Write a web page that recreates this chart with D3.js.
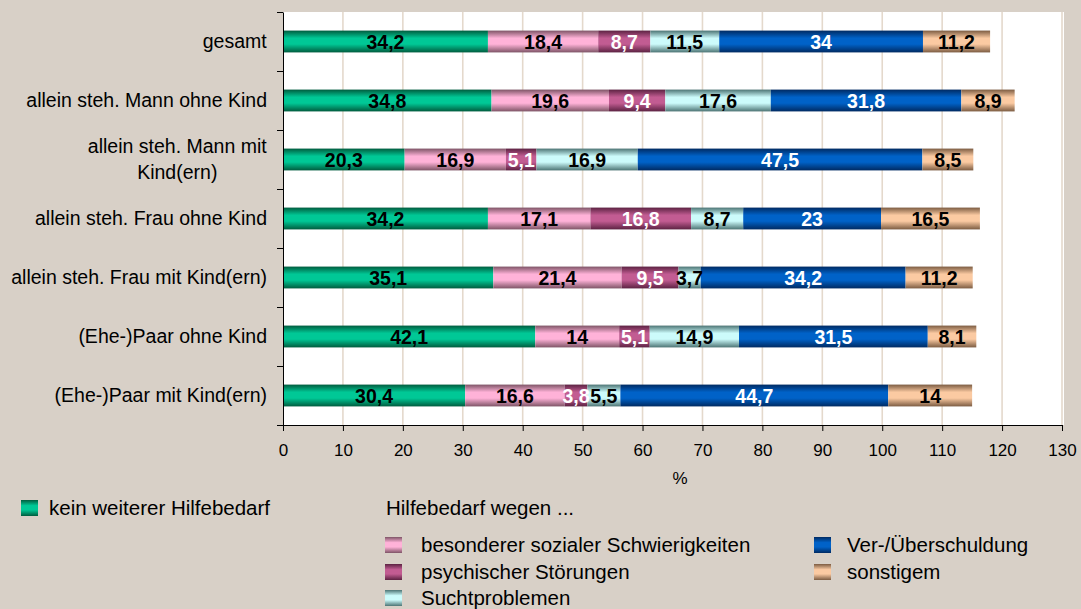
<!DOCTYPE html>
<html>
<head>
<meta charset="utf-8">
<script src="https://cdn.jsdelivr.net/npm/d3@7"></script>
<style>
  html, body { margin: 0; padding: 0; background: #d8d0c7; }
  svg { display: block; font-family: "Liberation Sans", Arial, sans-serif; }
</style>
</head>
<body>
<figure id="bar" style="margin:0"></figure>
<script>
// categories (top to bottom)
const categories = [
  "gesamt",
  "allein steh. Mann ohne Kind",
  "allein steh. Mann mit|Kind(ern)",
  "allein steh. Frau ohne Kind",
  "allein steh. Frau mit Kind(ern)",
  "(Ehe-)Paar ohne Kind",
  "(Ehe-)Paar mit Kind(ern)"
];

// series values in %
const keinWeiterer   = [34.2, 34.8, 20.3, 34.2, 35.1, 42.1, 30.4];
const sozialeSchw    = [18.4, 19.6, 16.9, 17.1, 21.4, 14.0, 16.6];
const psychStoerung  = [8.7, 9.4, 5.1, 16.8, 9.5, 5.1, 3.8];
const suchtProbleme  = [11.5, 17.6, 16.9, 8.7, 3.7, 14.9, 5.5];
const verschuldung   = [34, 31.8, 47.5, 23, 34.2, 31.5, 44.7];
const sonstigem      = [11.2, 8.9, 8.5, 16.5, 11.2, 8.1, 14];

const seriesNames = [
  "kein weiterer Hilfebedarf",
  "besonderer sozialer Schwierigkeiten",
  "psychischer Störungen",
  "Suchtproblemen",
  "Ver-/Überschuldung",
  "sonstigem"
];
const xTicks = d3.range(0, 131, 10);

const seriesValues = [keinWeiterer, sozialeSchw, psychStoerung, suchtProbleme, verschuldung, sonstigem];
// light centre / dark edge of each bar gradient, and label colour
const palette = [
  {light: "#00c896", dark: "#005c3e", text: "#000"},
  {light: "#ffb2d8", dark: "#7e5466", text: "#000"},
  {light: "#c25c92", dark: "#5c2242", text: "#fff"},
  {light: "#ccfbfb", dark: "#4c7474", text: "#000"},
  {light: "#0062c8", dark: "#002a62", text: "#fff"},
  {light: "#fbcaa2", dark: "#7c5c42", text: "#000"}
];

const W = 1081, H = 609;
const plot = {left: 283, right: 1062, top: 12, bottom: 425};

const svg = d3.select("figure#bar").append("svg")
  .attr("width", W).attr("height", H);

// gradients
const defs = svg.append("defs");
palette.forEach((p, i) => {
  const g = defs.append("linearGradient")
    .attr("id", "grad" + i)
    .attr("x1", 0).attr("y1", 0).attr("x2", 0).attr("y2", 1);
  g.append("stop").attr("offset", "0%").attr("stop-color", p.dark);
  g.append("stop").attr("offset", "35%").attr("stop-color", p.light);
  g.append("stop").attr("offset", "62%").attr("stop-color", p.light);
  g.append("stop").attr("offset", "100%").attr("stop-color", p.dark);
});

// plot area
svg.append("rect")
  .attr("x", plot.left).attr("y", plot.top)
  .attr("width", 1064 - plot.left).attr("height", plot.bottom - plot.top)
  .attr("fill", "#fff");

const x = d3.scaleLinear().domain([0, 130]).range([plot.left, plot.right]);
const y = d3.scaleBand()
  .domain(categories)
  .range([plot.top, plot.bottom])
  .paddingInner(0.63)
  .paddingOuter(0.315);

// vertical gridlines
svg.append("g").selectAll("line")
  .data(xTicks.filter(d => d > 0))
  .enter().append("line")
  .attr("x1", d => x(d)).attr("x2", d => x(d))
  .attr("y1", plot.top).attr("y2", plot.bottom)
  .attr("stroke", "#e4d9cc").attr("stroke-width", 1.6);

// stacked data
const stackData = categories.map((c, i) => {
  const row = {cat: c};
  seriesValues.forEach((s, j) => row["s" + j] = s[i]);
  return row;
});
const stack = d3.stack().keys(seriesValues.map((s, j) => "s" + j))(stackData);

const layers = svg.append("g").selectAll("g")
  .data(stack)
  .enter().append("g")
  .attr("fill", (d, i) => "url(#grad" + i + ")");

layers.selectAll("rect")
  .data(d => d)
  .enter().append("rect")
  .attr("x", d => x(d[0]))
  .attr("y", d => y(d.data.cat))
  .attr("width", d => x(d[1]) - x(d[0]))
  .attr("height", y.bandwidth());

// value labels
const labels = svg.append("g")
  .attr("font-size", "19.5px").attr("font-weight", "bold")
  .attr("text-anchor", "middle");
stack.forEach((layer, i) => {
  labels.append("g").attr("fill", palette[i].text)
    .selectAll("text")
    .data(layer)
    .enter().append("text")
    .attr("x", d => (x(d[0]) + x(d[1])) / 2)
    .attr("y", d => y(d.data.cat) + y.bandwidth() / 2)
    .attr("dy", "0.36em")
    .text(d => String(+(d[1] - d[0]).toFixed(1)).replace(".", ","));
});

// left axis: ticks at category boundaries
const yLin = d3.scaleLinear().domain([0, categories.length]).range([plot.top, plot.bottom]);
svg.append("g")
  .attr("transform", "translate(" + plot.left + ",0)")
  .call(d3.axisLeft(yLin).tickValues(d3.range(0, categories.length + 1)).tickFormat("").tickSize(6).tickSizeOuter(0))
  .call(g => g.select(".domain").attr("stroke", "#000"))
  .call(g => g.selectAll(".tick line").attr("stroke", "#000"));

// category labels
const catG = svg.append("g").attr("font-size", "19.5px").attr("fill", "#000");
categories.forEach(c => {
  const lines = c.split("|");
  const cy = y(c) + y.bandwidth() / 2;
  const t = catG.append("text").attr("text-anchor", "middle");
  lines.forEach((l, k) => {
    t.append("tspan").attr("x", 0)
      .attr("y", cy + (k - (lines.length - 1) / 2) * 26).attr("dy", "0.35em").text(l);
  });
  // right-align the block, centre the lines
  const w = t.node().getBBox().width;
  t.selectAll("tspan").attr("x", 267 - w / 2);
});

// bottom axis
svg.append("g")
  .attr("transform", "translate(0," + plot.bottom + ")")
  .call(d3.axisBottom(x).tickValues(xTicks).tickSize(6).tickSizeOuter(0).tickPadding(13))
  .call(g => g.select(".domain").remove())
  .call(g => g.selectAll(".tick line").attr("stroke", "#000"))
  .call(g => g.selectAll(".tick text")
    .attr("font-size", "17px").attr("fill", "#000")
    .attr("font-family", "'Liberation Sans', Arial, sans-serif"));
svg.append("line")
  .attr("x1", 277).attr("x2", plot.right)
  .attr("y1", plot.bottom + 0.5).attr("y2", plot.bottom + 0.5)
  .attr("stroke", "#000");

svg.append("text")
  .attr("x", 680).attr("y", 478).attr("dy", "0.35em")
  .attr("text-anchor", "middle").attr("font-size", "17px")
  .text("%");

// legend
const legend = svg.append("g").attr("font-size", "20.5px").attr("fill", "#000");
const legendItems = [
  {i: 0, x: 21, y: 508, tx: 49},
  {i: 1, x: 385, y: 545, tx: 421},
  {i: 2, x: 385, y: 572, tx: 421},
  {i: 3, x: 385, y: 598, tx: 421},
  {i: 4, x: 814, y: 545, tx: 847},
  {i: 5, x: 814, y: 572, tx: 847}
];
legendItems.forEach(d => {
  legend.append("rect")
    .attr("x", d.x).attr("y", d.y - 8)
    .attr("width", 17).attr("height", 16)
    .attr("fill", "url(#grad" + d.i + ")");
  legend.append("text")
    .attr("x", d.tx).attr("y", d.y).attr("dy", "0.35em")
    .text(seriesNames[d.i]);
});
legend.append("text")
  .attr("x", 386).attr("y", 508).attr("dy", "0.35em")
  .text("Hilfebedarf wegen ...");
</script>
</body>
</html>
